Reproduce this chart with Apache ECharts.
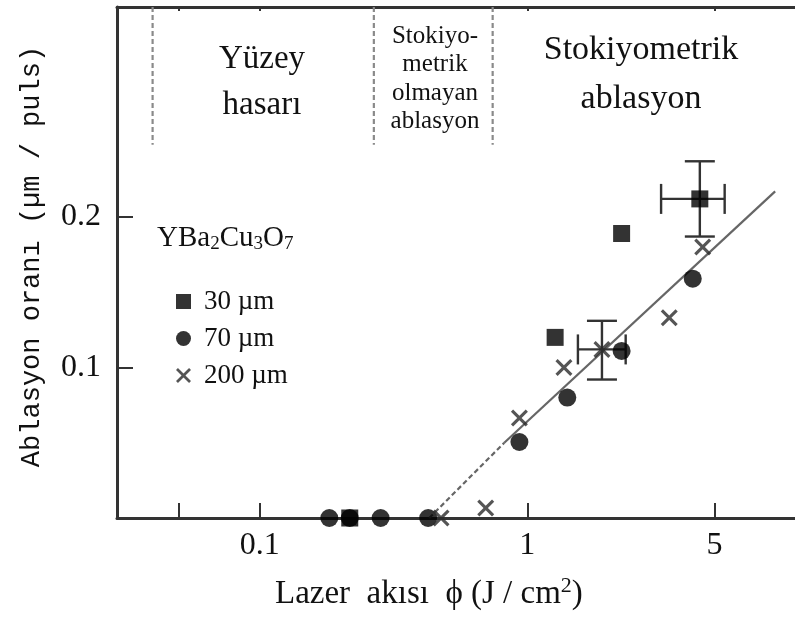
<!DOCTYPE html>
<html>
<head>
<meta charset="utf-8">
<script src="https://cdn.jsdelivr.net/npm/echarts@6/dist/echarts.min.js"></script>
<style>html,body{margin:0;padding:0;background:#fff}#c{width:795px;height:626px}</style>
</head>
<body>
<div id="c"></div>
<script>
// ---- data ----
const xTickValues = [0.05, 0.1, 1, 5];
const xLabelValues = [0.1, 1, 5];
const yTickValues = [0.1, 0.2];
const seriesNames = ['30 µm', '70 µm', '200 µm'];
const data30 = [[0.217, 0], [1.27, 0.120], [2.25, 0.189], [4.41, 0.212]];
const data70 = [[0.182, 0], [0.217, 0], [0.283, 0], [0.426, 0], [0.934, 0.0505], [1.41, 0.080], [2.25, 0.111], [4.15, 0.159]];
const data200 = [[0.476, 0], [0.699, 0.0066], [0.934, 0.0664], [1.37, 0.100], [1.90, 0.112], [3.39, 0.133], [4.52, 0.180]];
// error bars: [x, y, xLow, xHigh, yLow, yHigh]
const errorBars = [[4.41, 0.212, 3.16, 5.46, 0.187, 0.237], [1.90, 0.112, 1.545, 2.33, 0.092, 0.131]];
const fitDashed = [[0.43, 0], [0.82, 0.05]];
const fitSolid = [[0.82, 0.05], [8.43, 0.217]];
const regionBounds = [0.0398, 0.267, 0.742];
const regionLineBottom = 0.248;
const xMin = 0.0293, xMax = 10, yMin = 0, yMax = 0.3395;

const serif = 'Liberation Serif';
const ink = '#111';
const crossPath = 'path://M0,1.3 L1.3,0 L5,3.7 L8.7,0 L10,1.3 L6.3,5 L10,8.7 L8.7,10 L5,6.3 L1.3,10 L0,8.7 L3.7,5 Z';

const regionSeries = regionBounds.map(v => ({
  type: 'line', silent: true, symbol: 'none', xAxisIndex: 0, yAxisIndex: 0,
  data: [[v, yMax], [v, regionLineBottom]],
  lineStyle: { color: '#8a8a8a', width: 2.2, type: [5, 3] }, z: 1
}));

const chart = echarts.init(document.getElementById('c'), null, { renderer: 'canvas' });
chart.setOption({
  animation: false,
  backgroundColor: '#fff',
  grid: { left: 117, right: -5, top: 7, bottom: 108, containLabel: false },
  legend: {
    orient: 'vertical', left: 171, top: 283,
    itemWidth: 15, itemHeight: 15, itemGap: 10,
    data: seriesNames,
    textStyle: { fontFamily: serif, fontSize: 27, color: ink, lineHeight: 26, padding: [0, 0, 0, 8] },
    selectedMode: false
  },
  xAxis: [{
    type: 'log', logBase: 10, min: xMin, max: xMax,
    axisLine: { show: true, lineStyle: { color: '#333', width: 3 } },
    axisTick: { show: true, inside: true, length: 15, customValues: xTickValues, lineStyle: { color: '#333', width: 2 } },
    minorTick: { show: false },
    splitLine: { show: false },
    axisLabel: {
      customValues: xLabelValues, margin: 12,
      fontFamily: serif, fontSize: 32, color: ink,
      formatter: v => String(Number(Number(v).toPrecision(3)))
    }
  }, {
    type: 'log', logBase: 10, min: xMin, max: xMax, position: 'top',
    axisLine: { show: true, onZero: false, lineStyle: { color: '#333', width: 3 } },
    axisTick: { show: true, inside: true, length: 4, customValues: xTickValues, lineStyle: { color: '#333', width: 2 } },
    axisLabel: { show: false }, splitLine: { show: false }
  }],
  yAxis: {
    type: 'value', min: yMin, max: yMax,
    axisLine: { show: true, lineStyle: { color: '#333', width: 3 } },
    axisTick: { show: true, inside: true, length: 16, customValues: yTickValues, lineStyle: { color: '#333', width: 2 } },
    splitLine: { show: false },
    axisLabel: {
      customValues: yTickValues, margin: 16,
      fontFamily: serif, fontSize: 32, color: ink,
      formatter: v => String(Number(Number(v).toPrecision(3)))
    },
    name: 'Ablasyon oranı (µm / puls)', nameLocation: 'middle', nameGap: 72, nameRotate: 90,
    nameTextStyle: { fontFamily: 'Liberation Mono', fontSize: 27, color: ink, padding: [0, 0, 0, 12] }
  },
  series: [
    ...regionSeries,
    {
      type: 'line', silent: true, symbol: 'none', data: fitDashed,
      lineStyle: { color: '#666', width: 2.2, type: [5, 3] }, z: 2
    },
    {
      type: 'line', silent: true, symbol: 'none', data: fitSolid,
      lineStyle: { color: '#666', width: 2.2 }, z: 2
    },
    {
      type: 'custom', silent: true, data: errorBars, z: 3,
      renderItem: function (params, api) {
        const x = api.value(0), y = api.value(1);
        const c = api.coord([x, y]);
        const xl = api.coord([api.value(2), y]);
        const xh = api.coord([api.value(3), y]);
        const yl = api.coord([x, api.value(4)]);
        const yh = api.coord([x, api.value(5)]);
        const cap = 15;
        const st = { stroke: '#333', lineWidth: 2.4, fill: null };
        const L = (x1, y1, x2, y2) => ({ type: 'line', shape: { x1, y1, x2, y2 }, style: st });
        return {
          type: 'group', children: [
            L(xl[0], c[1], xh[0], c[1]),
            L(xl[0], c[1] - cap, xl[0], c[1] + cap),
            L(xh[0], c[1] - cap, xh[0], c[1] + cap),
            L(c[0], yl[1], c[0], yh[1]),
            L(c[0] - cap, yl[1], c[0] + cap, yl[1]),
            L(c[0] - cap, yh[1], c[0] + cap, yh[1])
          ]
        };
      }
    },
    {
      name: seriesNames[0], type: 'scatter', symbol: 'rect', symbolSize: 17, data: data30,
      itemStyle: { color: '#000' }, z: 5
    },
    {
      name: seriesNames[1], type: 'scatter', symbol: 'circle', symbolSize: 18, data: data70,
      itemStyle: { color: '#000' }, z: 6
    },
    {
      name: seriesNames[2], type: 'scatter', symbol: crossPath, symbolSize: 17, data: data200,
      itemStyle: { color: '#2a2a2a' }, z: 7
    }
  ],
  graphic: [
    { type: 'text', x: 262, y: 36, style: { text: 'Yüzey\nhasarı', font: '33px "Liberation Serif"', fill: ink, align: 'center', lineHeight: 46 } },
    { type: 'text', x: 435, y: 22, style: { text: 'Stokiyo-\nmetrik\nolmayan\nablasyon', font: '25px "Liberation Serif"', fill: ink, align: 'center', lineHeight: 28.5 } },
    { type: 'text', x: 641, y: 26, style: { text: 'Stokiyometrik\nablasyon', font: '34px "Liberation Serif"', fill: ink, align: 'center', lineHeight: 49 } },
    { type: 'text', x: 157, y: 222, style: {
        text: '{b|YBa}{s|2}{b|Cu}{s|3}{b|O}{s|7}', fill: ink,
        rich: {
          b: { fontFamily: serif, fontSize: 29, lineHeight: 32, fill: ink },
          s: { fontFamily: serif, fontSize: 19, lineHeight: 32, padding: [12, 0, 0, 0], fill: ink }
        }
      } },
    { type: 'text', x: 275, y: 574, style: {
        text: '{b|Lazer  akısı  ϕ (J / cm}{p|2}{b|)}', fill: ink,
        rich: {
          b: { fontFamily: serif, fontSize: 33, lineHeight: 40, fill: ink },
          p: { fontFamily: serif, fontSize: 22, lineHeight: 40, padding: [0, 0, 16, 0], fill: ink }
        }
      } }
  ]
});
</script>
</body>
</html>
